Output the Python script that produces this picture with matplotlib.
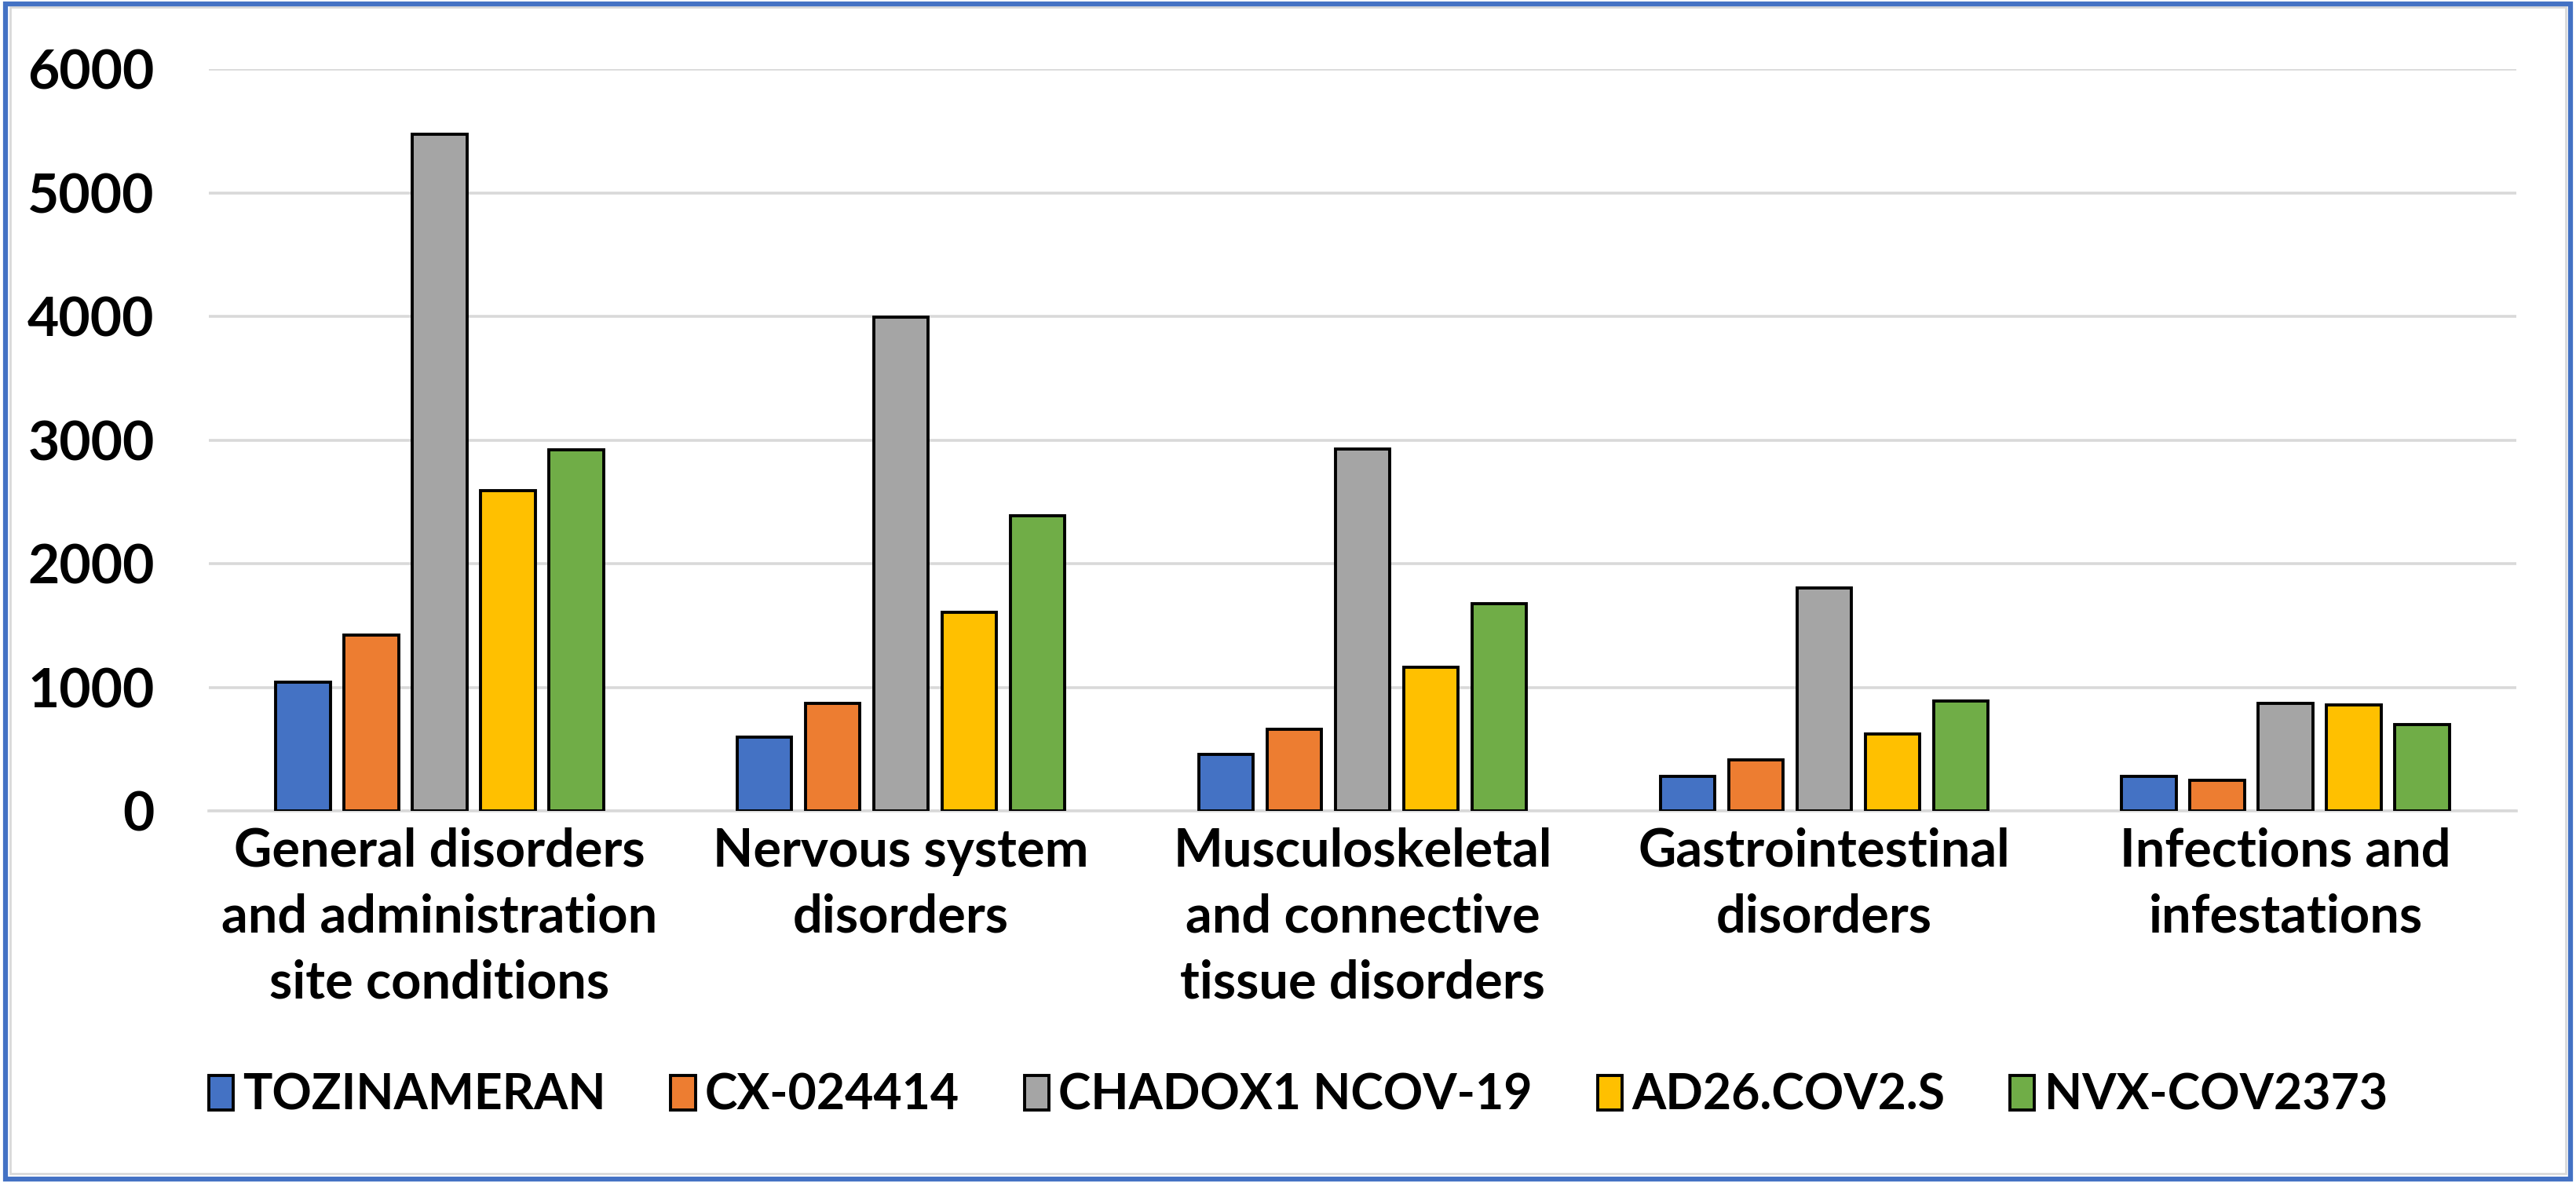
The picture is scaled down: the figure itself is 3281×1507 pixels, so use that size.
import matplotlib
matplotlib.use("Agg")
import matplotlib.pyplot as plt
import numpy as np
from matplotlib.patches import Rectangle

plt.rcParams['font.family'] = ['Lato', 'DejaVu Sans']
plt.rcParams['font.weight'] = 'bold'

categories = ["General disorders\nand administration\nsite conditions",
              "Nervous system\ndisorders",
              "Musculoskeletal\nand connective\ntissue disorders",
              "Gastrointestinal\ndisorders",
              "Infections and\ninfestations"]
series = ["TOZINAMERAN", "CX-024414", "CHADOX1 NCOV-19", "AD26.COV2.S", "NVX-COV2373"]
tozinameran = [1040, 600, 460, 280, 280]
cx024414 = [1425, 870, 660, 415, 245]
chadox1 = [5470, 3995, 2930, 1805, 870]
ad26 = [2590, 1605, 1160, 625, 855]
nvx = [2920, 2385, 1675, 890, 700]
colors = ["#4472C4", "#ED7D31", "#A5A5A5", "#FFC000", "#70AD47"]

values = [tozinameran, cx024414, chadox1, ad26, nvx]

fig = plt.figure(figsize=(32.81, 15.07), dpi=100)
ax = fig.add_axes([0.0811, 0.3145, 0.8957, 0.6271])

x = np.arange(len(categories))
step = 0.148
width = 0.118
for i, (name, vals, c) in enumerate(zip(series, values, colors)):
    ax.bar(x + (i - 2) * step, vals, width, color=c, edgecolor="black",
           linewidth=2.8, label=name, zorder=3)

ax.set_xlim(-0.5, len(categories) - 0.5)
ax.set_ylim(0, 6000)
ax.set_yticks(range(0, 6001, 1000))
ax.yaxis.grid(True, color="#d9d9d9", linewidth=2.6, zorder=0)
ax.set_axisbelow(True)
for s in ["top", "right", "left"]:
    ax.spines[s].set_visible(False)
ax.spines["bottom"].set_color("#d9d9d9")
ax.spines["bottom"].set_linewidth(2.6)
ax.set_xticks(x)
ax.set_xticklabels(categories, fontsize=48, fontweight="bold", linespacing=1.44)
ax.tick_params(axis="y", length=0, labelsize=50, pad=50)
ax.tick_params(axis="x", length=0, pad=15)
for t in ax.get_yticklabels():
    t.set_fontweight("bold")

ax.legend(loc="center", bbox_to_anchor=(0.472, -0.384), ncol=5, frameon=False,
          handlelength=0.5, handleheight=0.7, handletextpad=0.2,
          columnspacing=1.32, prop={"weight": "bold", "size": 45})

# outer frame: thin grey inner line plus blue border
fig.patches.append(Rectangle((0.004, 0.008), 0.992, 0.986, transform=fig.transFigure,
                             fill=False, edgecolor="#d9d9d9", linewidth=2))
fig.patches.append(Rectangle((0.002, 0.003), 0.996, 0.994, transform=fig.transFigure,
                             fill=False, edgecolor="#4472C4", linewidth=4.5))

fig.savefig("out.png", dpi=100)
